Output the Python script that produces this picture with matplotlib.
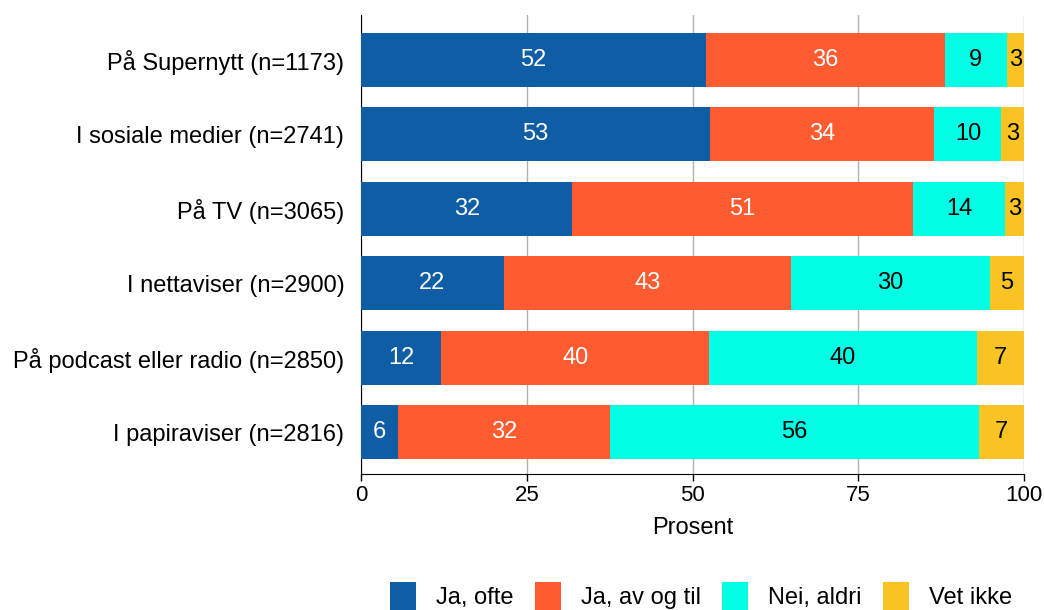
import matplotlib
matplotlib.use("Agg")
import matplotlib.pyplot as plt
import numpy as np

categories = ["På Supernytt (n=1173)", "I sosiale medier (n=2741)", "På TV (n=3065)",
              "I nettaviser (n=2900)", "På podcast eller radio (n=2850)", "I papiraviser (n=2816)"]
series_names = ["Ja, ofte", "Ja, av og til", "Nei, aldri", "Vet ikke"]
ja_ofte = [52.1, 52.6, 31.9, 21.5, 12.1, 5.6]
ja_av_og_til = [36.0, 33.9, 51.3, 43.4, 40.4, 32.0]
nei_aldri = [9.3, 10.1, 14.0, 29.9, 40.4, 55.6]
vet_ikke = [2.6, 3.4, 2.8, 5.2, 7.1, 6.8]
xticks = [0, 25, 50, 75, 100]

colors = ["#0F5EA5", "#FF5B31", "#00FFE5", "#F9C423"]
text_colors = ["white", "white", "black", "black"]

plt.rcParams['font.family'] = ['Liberation Sans', 'DejaVu Sans']

fig = plt.figure(figsize=(10.44, 6.10), dpi=100)
ax = fig.add_axes([361/1044, 1-474/610, (1024-361)/1044, (474-15)/610])

data = [ja_ofte, ja_av_og_til, nei_aldri, vet_ikke]
y = np.arange(len(categories))
left = np.zeros(len(categories))
for vals, name, col, tc in zip(data, series_names, colors, text_colors):
    vals = np.array(vals)
    ax.barh(y, vals, left=left, height=0.73, color=col, label=name, zorder=3)
    for yi, l, v in zip(y, left, vals):
        ax.text(l + v/2, yi, f"{int(np.floor(v + 0.5)):d}", ha='center', va='center', color=tc,
                fontsize=17, zorder=4)
    left = left + vals

ax.set_xlim(0, 100)
ax.set_ylim(len(categories) - 1 + 0.56, -0.6)
ax.set_yticks(y)
ax.set_yticklabels(categories, fontsize=17)
ax.set_xticks(xticks)
ax.set_xticklabels([str(t) for t in xticks], fontsize=16)
ax.tick_params(axis='y', length=0, pad=12)
ax.tick_params(axis='x', length=5, width=1, pad=3)
ax.grid(axis='x', color='#b0b0b0', linewidth=1, zorder=0)
for s in ['top', 'right']:
    ax.spines[s].set_visible(False)
ax.spines['left'].set_color('black')
ax.spines['bottom'].set_color('black')
ax.set_xlabel("Prosent", fontsize=17, labelpad=8)

handles, labels = ax.get_legend_handles_labels()
fig.legend(handles, labels, loc='center', bbox_to_anchor=(701/1044, 1-596/610), ncol=4,
           frameon=False, fontsize=17, handlelength=1.1, handleheight=1.4,
           columnspacing=0.9, handletextpad=0.85, borderpad=0)

fig.savefig("out.png", dpi=100)
